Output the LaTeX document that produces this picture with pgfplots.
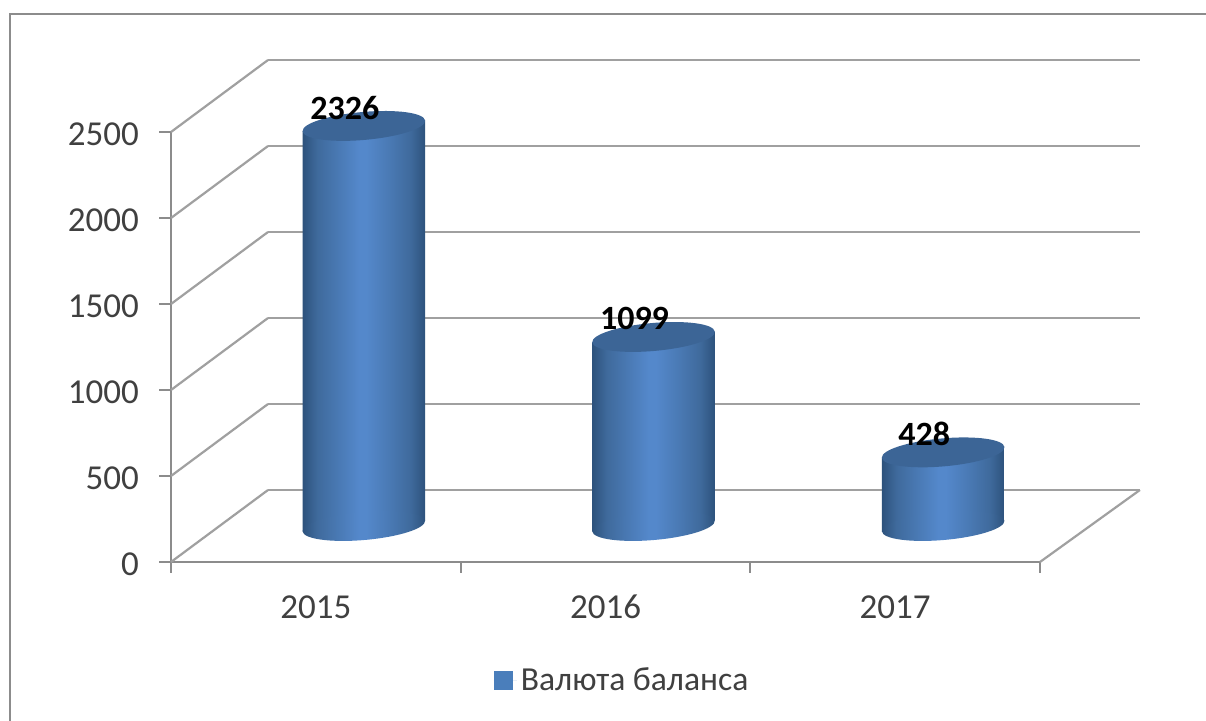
\documentclass[border=0pt]{standalone}
\usepackage{fontspec}
\setmainfont{Carlito}
\usepackage{pgfplots}
\pgfplotsset{compat=1.18}
\definecolor{wallc}{HTML}{A0A0A0}
\definecolor{axc}{HTML}{8C8C8C}
\definecolor{txt}{HTML}{404040}
\definecolor{capc}{HTML}{3C6596}
\definecolor{legc}{HTML}{4A7EBB}
\definecolor{c0}{HTML}{2D527C}
\definecolor{c1}{HTML}{3F6A9C}
\definecolor{c2}{HTML}{4A7AB5}
\definecolor{c3}{HTML}{5488CB}
\pgfdeclarehorizontalshading{cyl}{100bp}{color(0bp)=(c0);color(25bp)=(c0);color(31bp)=(c1);color(40bp)=(c2);color(48bp)=(c3);color(51bp)=(c3);color(60bp)=(c2);color(69bp)=(c1);color(75bp)=(c0);color(100bp)=(c0)}
\pgfdeclareplotmark{cylbot}{\pgfpathellipse{\pgfpointorigin}{\pgfpoint{30.63pt}{2.68pt}}{\pgfpoint{-0.61pt}{6.97pt}}\pgfshadepath{cyl}{0}\pgfusepath{discard}}
\pgfdeclareplotmark{cyltop}{\pgfpathellipse{\pgfpointorigin}{\pgfpoint{30.63pt}{2.68pt}}{\pgfpoint{-0.61pt}{6.97pt}}\pgfsetfillcolor{capc}\pgfusepath{fill}}
\begin{document}
\begin{tikzpicture}
\path[use as bounding box,fill=white] (-85.5pt,-79.5pt) rectangle (517.5pt,281pt);
\draw[color=axc,line width=1pt] (-80.5pt,-79.5pt) -- (-80.5pt,274pt) -- (517.5pt,274pt);
\begin{axis}[
  scale only axis,width=434.5pt,height=215pt,
  xmin=-0.5,xmax=2.5,ymin=0,ymax=2500,clip=false,
  axis x line=bottom,axis y line=left,
  axis line style={color=axc,line width=1pt,-},
  xtick={0,1,2},xticklabels={2015,2016,2017},
  minor xtick={-0.5,0.5,1.5,2.5},
  ytick={0,500,1000,1500,2000,2500},
  tick align=outside,
  major tick style={draw=none},
  minor tick style={draw=axc,line width=1pt},
  minor tick length=5.5pt,
  major tick length=6pt,
  tick label style={font=\fontsize{17.5}{17.5}\selectfont,text=txt},
  /pgf/number format/assume math mode=true,
  /pgf/number format/1000 sep={},
  yticklabel style={xshift=-6.5pt,yshift=-1pt},
  xticklabel style={yshift=-6.5pt,text height=12pt,text depth=0pt},
  legend style={at={(axis cs:1.061,-690)},anchor=center,draw=none,fill=none,font=\fontsize{16.8}{17}\selectfont,text=txt,legend cell align=left},
  legend image code/.code={\fill[#1] (0pt,-4.75pt) rectangle (9.5pt,4.75pt);\path (0pt,0pt) -- (11.5pt,0pt);},
  every axis plot/.append style={forget plot},
]
% y tick marks
\addplot[axc,line width=1pt,no marks] coordinates {(-0.5414,0) (-0.5,0)};
\addplot[axc,line width=1pt,no marks] coordinates {(-0.5414,500) (-0.5,500)};
\addplot[axc,line width=1pt,no marks] coordinates {(-0.5414,1000) (-0.5,1000)};
\addplot[axc,line width=1pt,no marks] coordinates {(-0.5414,1500) (-0.5,1500)};
\addplot[axc,line width=1pt,no marks] coordinates {(-0.5414,2000) (-0.5,2000)};
\addplot[axc,line width=1pt,no marks] coordinates {(-0.5414,2500) (-0.5,2500)};
% back wall and side wall
\addplot[wallc,line width=1.1pt,no marks] coordinates {(-0.165,418.6) (2.845,418.6)};
\addplot[wallc,line width=1.1pt,no marks] coordinates {(-0.165,918.6) (2.845,918.6)};
\addplot[wallc,line width=1.1pt,no marks] coordinates {(-0.165,1418.6) (2.845,1418.6)};
\addplot[wallc,line width=1.1pt,no marks] coordinates {(-0.165,1918.6) (2.845,1918.6)};
\addplot[wallc,line width=1.1pt,no marks] coordinates {(-0.165,2418.6) (2.845,2418.6)};
\addplot[wallc,line width=1.1pt,no marks] coordinates {(-0.165,2918.6) (2.845,2918.6)};
\addplot[wallc,line width=1.1pt,no marks] coordinates {(-0.5,0) (-0.165,418.6)};
\addplot[wallc,line width=1.1pt,no marks] coordinates {(-0.5,500) (-0.165,918.6)};
\addplot[wallc,line width=1.1pt,no marks] coordinates {(-0.5,1000) (-0.165,1418.6)};
\addplot[wallc,line width=1.1pt,no marks] coordinates {(-0.5,1500) (-0.165,1918.6)};
\addplot[wallc,line width=1.1pt,no marks] coordinates {(-0.5,2000) (-0.165,2418.6)};
\addplot[wallc,line width=1.1pt,no marks] coordinates {(-0.5,2500) (-0.165,2918.6)};
\addplot[wallc,line width=1.1pt,no marks] coordinates {(2.5,0) (2.845,418.6)};
% bottoms
\addplot[only marks,mark=cylbot,xshift=24pt,yshift=18pt] coordinates {(0,0) (1,0) (2,0)};
% bodies
\addplot[shading=cyl,draw=none,no marks,xshift=24pt,yshift=18pt] coordinates {(-0.2116,-31) (0.2116,31) (0.2116,2357) (-0.2116,2295)} -- cycle;
\addplot[shading=cyl,draw=none,no marks,xshift=24pt,yshift=18pt] coordinates {(0.7884,-31) (1.2116,31) (1.2116,1130) (0.7884,1068)} -- cycle;
\addplot[shading=cyl,draw=none,no marks,xshift=24pt,yshift=18pt] coordinates {(1.7884,-31) (2.2116,31) (2.2116,459) (1.7884,397)} -- cycle;
% caps and value labels
\addplot[only marks,mark=cyltop,xshift=24pt,yshift=18pt,
  nodes near coords,
  every node near coord/.append style={anchor=center,xshift=-9.5pt,yshift=9pt,text=black,font=\fontsize{17}{17}\selectfont\bfseries}]
  coordinates {(0,2326) (1,1099) (2,428)};
\addlegendimage{fill=legc,draw=none}
\addlegendentry{Валюта баланса}
\end{axis}
\end{tikzpicture}
\end{document}
